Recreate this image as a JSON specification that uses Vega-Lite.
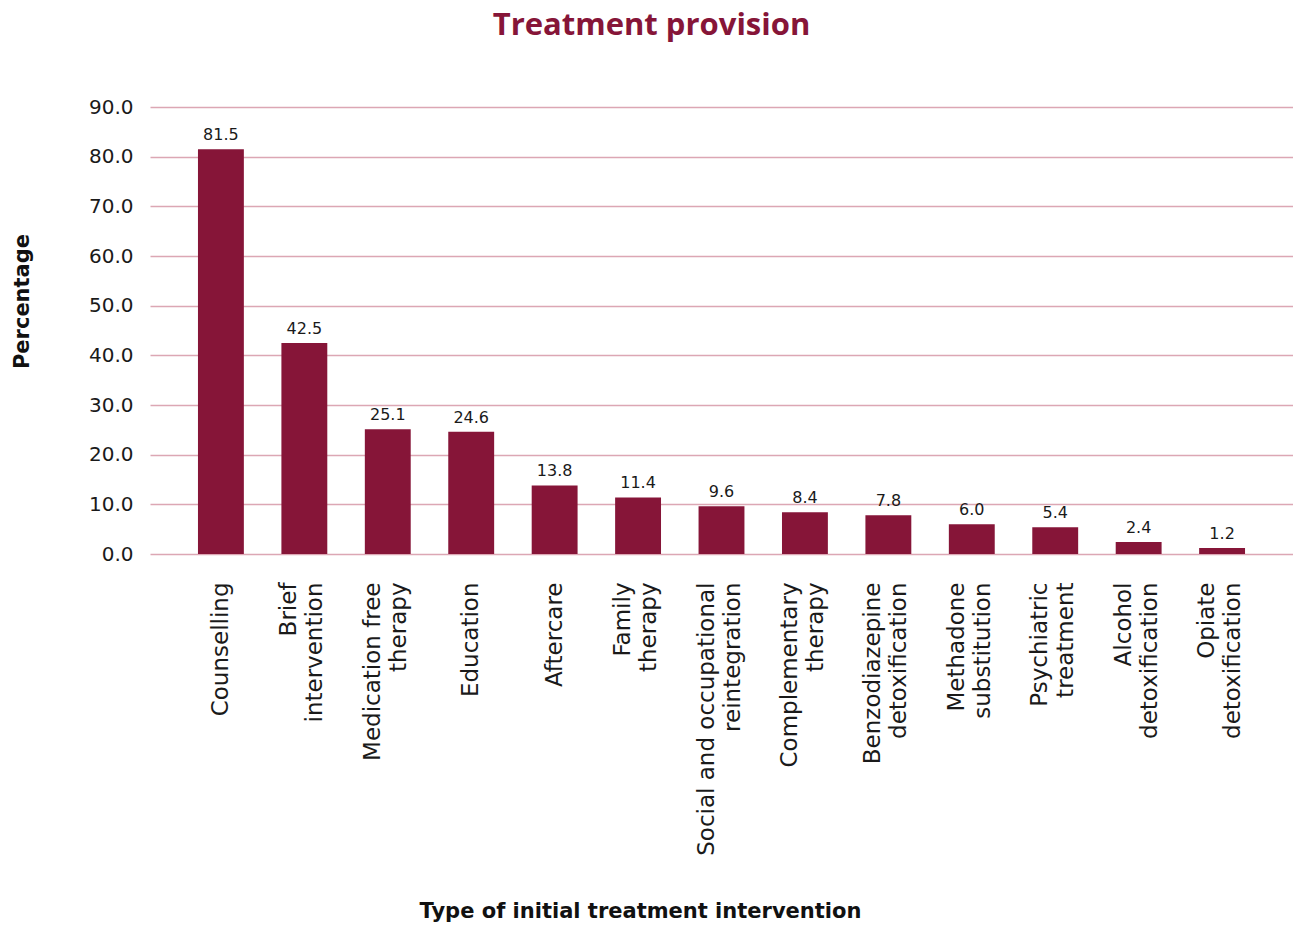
{
  "$schema": "https://vega.github.io/schema/vega-lite/v6.json",
  "width": 1143,
  "height": 447,
  "autosize": {"type": "none"},
  "padding": {"left": 150, "top": 107, "right": 0, "bottom": 373},
  "background": "white",
  "title": {
    "text": "Treatment provision",
    "font": "Open Sans",
    "fontSize": 31,
    "fontWeight": "bold",
    "color": "#861538",
    "anchor": "middle",
    "frame": "group",
    "dx": -70,
    "baseline": "alphabetic",
    "offset": 31
  },
  "data": {
    "values": [
      {"intervention": "Counselling", "percentage": 81.5},
      {"intervention": "Brief|intervention", "percentage": 42.5},
      {"intervention": "Medication free|therapy", "percentage": 25.1},
      {"intervention": "Education", "percentage": 24.6},
      {"intervention": "Aftercare", "percentage": 13.8},
      {"intervention": "Family|therapy", "percentage": 11.4},
      {"intervention": "Social and occupational|reintegration", "percentage": 9.6},
      {"intervention": "Complementary|therapy", "percentage": 8.4},
      {"intervention": "Benzodiazepine|detoxification", "percentage": 7.8},
      {"intervention": "Methadone|substitution", "percentage": 6.0},
      {"intervention": "Psychiatric|treatment", "percentage": 5.4},
      {"intervention": "Alcohol|detoxification", "percentage": 2.4},
      {"intervention": "Opiate|detoxification", "percentage": 1.2}
    ]
  },
  "encoding": {
    "x": {
      "field": "intervention",
      "type": "nominal",
      "sort": null,
      "scale": {"paddingInner": 0.45, "paddingOuter": 0.575},
      "axis": {
        "title": "Type of initial treatment intervention",
        "titleFont": "DejaVu Sans",
        "titleFontSize": 21,
        "titleFontWeight": "bold",
        "titleColor": "#111111",
        "titleX": 490,
        "titleY": 357,
        "titleAlign": "center",
        "titleBaseline": "middle",
        "labelExpr": "split(datum.value, '|')",
        "labelAngle": -90,
        "labelAlign": "right",
        "labelBaseline": "middle",
        "labelOffset": {"condition": {"test": "indexof(datum.value, '|') >= 0", "value": -15}, "value": 0},
        "labelFont": "DejaVu Sans",
        "labelFontSize": 23,
        "labelLineHeight": 26,
        "labelColor": "#1a1a1a",
        "labelPadding": 28,
        "labelLimit": 0,
        "ticks": false,
        "domain": false,
        "grid": false
      }
    },
    "y": {
      "field": "percentage",
      "type": "quantitative",
      "scale": {"domain": [0, 90], "nice": false},
      "axis": {
        "title": "Percentage",
        "titleFont": "DejaVu Sans",
        "titleFontSize": 21,
        "titleFontWeight": "bold",
        "titleColor": "#111111",
        "titleX": -128,
        "titleY": 194,
        "titleAlign": "center",
        "titleBaseline": "middle",
        "titleAngle": -90,
        "values": [0, 10, 20, 30, 40, 50, 60, 70, 80, 90],
        "format": ".1f",
        "labelFont": "DejaVu Sans",
        "labelFontSize": 20,
        "labelColor": "#1a1a1a",
        "labelPadding": 17,
        "ticks": false,
        "domain": false,
        "grid": true,
        "gridColor": "#dca7b4",
        "gridWidth": 1.5
      }
    }
  },
  "layer": [
    {
      "mark": {"type": "bar", "color": "#861538"}
    },
    {
      "mark": {
        "type": "text",
        "baseline": "bottom",
        "dy": -6,
        "font": "DejaVu Sans",
        "fontSize": 16,
        "color": "#1a1a1a"
      },
      "encoding": {
        "text": {"field": "percentage", "type": "quantitative", "format": ".1f"}
      }
    }
  ],
  "config": {
    "view": {"stroke": null}
  }
}
